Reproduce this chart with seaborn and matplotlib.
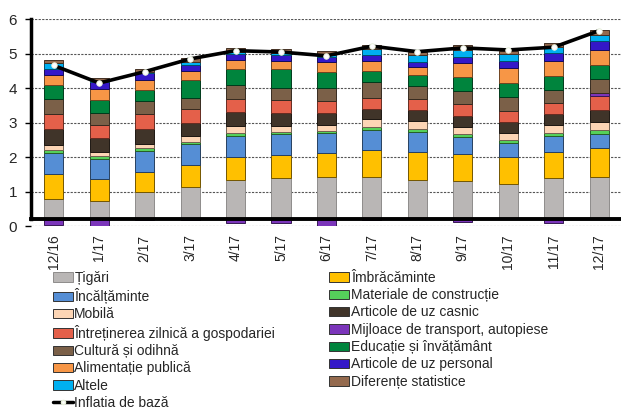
import numpy as np
import matplotlib
matplotlib.use("Agg")
import matplotlib.pyplot as plt
import seaborn as sns
from matplotlib.patches import Patch
from matplotlib.lines import Line2D

# Categories (x axis)
months = ["12/16", "1/17", "2/17", "3/17", "4/17", "5/17", "6/17",
          "7/17", "8/17", "9/17", "10/17", "11/17", "12/17"]

# Contributions (pp)
tigari = [0.58, 0.53, 0.78, 0.92, 1.15, 1.18, 1.21, 1.21, 1.15, 1.12, 1.02, 1.18, 1.23]
imbracaminte = [0.73, 0.63, 0.60, 0.66, 0.66, 0.69, 0.70, 0.80, 0.80, 0.78, 0.78, 0.78, 0.82]
incaltaminte = [0.61, 0.58, 0.61, 0.60, 0.60, 0.59, 0.58, 0.59, 0.58, 0.47, 0.40, 0.44, 0.41]
materiale = [0.09, 0.09, 0.08, 0.07, 0.10, 0.06, 0.06, 0.08, 0.10, 0.10, 0.10, 0.10, 0.12]
mobila = [0.15, 0.11, 0.12, 0.15, 0.19, 0.19, 0.18, 0.22, 0.22, 0.21, 0.21, 0.22, 0.23]
casnic = [0.47, 0.41, 0.43, 0.39, 0.40, 0.36, 0.34, 0.30, 0.31, 0.31, 0.32, 0.32, 0.36]
intretinere = [0.41, 0.38, 0.44, 0.41, 0.40, 0.38, 0.36, 0.33, 0.34, 0.34, 0.30, 0.33, 0.39]
mijloace = [-0.17, -0.22, -0.03, -0.02, -0.10, -0.10, -0.19, -0.02, -0.01, -0.07, 0.0, -0.11, 0.11]
cultura = [0.44, 0.35, 0.38, 0.33, 0.38, 0.37, 0.37, 0.46, 0.37, 0.40, 0.41, 0.38, 0.40]
educatie = [0.40, 0.39, 0.31, 0.52, 0.49, 0.53, 0.48, 0.32, 0.31, 0.39, 0.42, 0.40, 0.40]
alimentatie = [0.30, 0.32, 0.28, 0.25, 0.25, 0.25, 0.27, 0.29, 0.25, 0.41, 0.42, 0.43, 0.44]
personal = [0.19, 0.19, 0.20, 0.18, 0.17, 0.17, 0.15, 0.16, 0.14, 0.19, 0.20, 0.24, 0.26]
altele = [0.15, 0.07, 0.04, 0.09, 0.05, 0.05, 0.05, 0.17, 0.19, 0.19, 0.21, 0.17, 0.17]
diferente = [0.10, 0.06, 0.08, 0.10, 0.12, 0.12, 0.12, 0.11, 0.08, 0.13, 0.08, 0.13, 0.15]

# Core inflation line
inflatia = [4.66, 4.15, 4.48, 4.85, 5.09, 5.05, 4.94, 5.22, 5.06, 5.17, 5.11, 5.19, 5.67]

series = [
    ("Țigări", tigari, "#b9b6b5"),
    ("Îmbrăcăminte", imbracaminte, "#ffc000"),
    ("Încălțăminte", incaltaminte, "#558ed5"),
    ("Materiale de construcție", materiale, "#55d05a"),
    ("Mobilă", mobila, "#fcd5b5"),
    ("Articole de uz casnic", casnic, "#403429"),
    ("Întreținerea zilnică a gospodariei", intretinere, "#e4604a"),
    ("Mijloace de transport, autopiese", mijloace, "#7b35ba"),
    ("Cultură și odihnă", cultura, "#7b6048"),
    ("Educație și învățământ", educatie, "#00843d"),
    ("Alimentație publică", alimentatie, "#f79646"),
    ("Articole de uz personal", personal, "#3418c8"),
    ("Altele", altele, "#00b0f0"),
    ("Diferențe statistice", diferente, "#946a4e"),
]

sns.set_theme(style="white")
plt.rcParams["font.family"] = ["Liberation Sans Narrow", "Liberation Sans", "DejaVu Sans"]
plt.rcParams["font.size"] = 10

# bars sit on a secondary scale shifted by 0.2 vs the labelled axis
BASE = 0.2

fig = plt.figure(figsize=(6.21, 4.09), dpi=100)
ax = fig.add_axes([0.05, 0.4474, 0.955, 0.5054])

x = np.arange(len(months))
pos_bottom = np.full(len(months), BASE)
neg_bottom = np.full(len(months), BASE)
for name, vals, col in series:
    v = np.array(vals)
    bottom = np.where(v >= 0, pos_bottom, neg_bottom)
    edge = "#8e8c8b" if name == "Țigări" else tuple(c * 0.45 for c in matplotlib.colors.to_rgb(col))
    ax.bar(x, v, width=0.42, bottom=bottom, color=col, edgecolor=edge, linewidth=0.7, zorder=2)
    pos_bottom = pos_bottom + np.clip(v, 0, None)
    neg_bottom = neg_bottom + np.clip(v, None, 0)

sns.lineplot(x=x, y=inflatia, ax=ax, color="black", lw=2.6, marker="o", ms=4,
             markerfacecolor="white", markeredgecolor="#e6efd9", markeredgewidth=0.6,
             zorder=4, legend=False)

ax.set_xlim(-0.5, 12.55)
ax.set_ylim(0, 6)
ax.set_yticks(range(7))
ax.set_axisbelow(True)
ax.yaxis.grid(True, color="#555555", linestyle=(0, (2, 1.2)), linewidth=0.8)
ax.xaxis.grid(False)

for s in ["top", "right"]:
    ax.spines[s].set_visible(False)
ax.spines["left"].set_linewidth(2.5)
ax.spines["left"].set_color("black")
ax.spines["left"].set_bounds(BASE, 6)
ax.spines["bottom"].set_position(("data", BASE))
ax.spines["bottom"].set_linewidth(2.8)
ax.spines["bottom"].set_color("black")
ax.spines["bottom"].set_zorder(3)

ax.set_xticks(x)
ax.set_xticklabels(months, rotation=90, fontsize=10)
ax.set_xticks(np.arange(len(months) - 1) + 0.5, minor=True)
ax.tick_params(axis="x", which="major", length=0, pad=11)
ax.tick_params(axis="x", which="minor", length=4, width=1, color="black", direction="out")
ax.tick_params(axis="y", length=4, width=1, color="black", direction="out", labelsize=11, pad=6, left=True)

handles = [Patch(facecolor=c, edgecolor=("#8e8c8b" if n == "Țigări" else "#333333"), linewidth=0.7, label=n)
           for n, _, c in series]
core = Line2D([], [], color="black", lw=2.5, marker="o", ms=3, markerfacecolor="white",
              markeredgecolor="#e6efd9", label="Inflatia de bază")
# column-major order so the legend reads row by row
col1 = handles[0::2] + [core]
col2 = handles[1::2]
fig.legend(handles=col1 + col2, loc="upper left", bbox_to_anchor=(0.085, 0.338), ncol=2,
           frameon=False, fontsize=10, handlelength=1.45, handleheight=0.65, handletextpad=0.1,
           labelspacing=0.24, columnspacing=3.9, borderaxespad=0, borderpad=0)

fig.savefig("out.png", dpi=100)
